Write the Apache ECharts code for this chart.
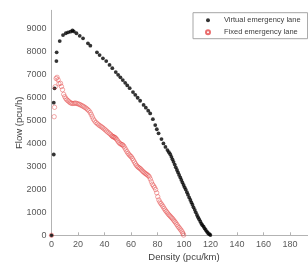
<!DOCTYPE html>
<html>
<head>
	<meta charset="utf-8">
	<title>Flow - Density</title>
	<script src="https://cdn.jsdelivr.net/npm/echarts@6/dist/echarts.min.js"></script>
	<style>
		html, body { margin: 0; padding: 0; background: #fff; }
		#main { width: 308px; height: 264px; }
	</style>
</head>
<body>
	<div id="main"></div>
	<script>
		// 虚拟应急车道 (black dots)
		var virtualDensity = [0, 1.7, 1.7, 2.3, 3.7, 3.9, 6.2, 8.7, 10.8, 12.5, 14.3, 15.8, 16.8, 18.8, 21.3, 23.8, 27.5, 29.3,
			34.3, 36.3, 38.8, 41.3, 43.8, 45.9, 48.5, 50.3, 52, 53.8, 55.6, 57.2, 59, 61.5, 63.2, 65, 66.9, 69.5, 71.2, 73,
			74.5, 76.5, 78.3, 79.5, 80.8, 83, 84.5, 86, 87.5, 88.6, 89.6, 90.5, 91.3, 92.1, 93, 93.8, 94.7, 95.5, 96.3, 97.2,
			98, 98.8, 99.7, 100.5, 101.3, 102.2, 103, 103.9, 104.8, 105.6, 106.4, 107.2, 108.1, 108.9, 109.8, 110.6, 111.4,
			112.3, 113.1, 113.9, 114.8, 115.6, 116.4, 117.3, 118.1, 119, 119.9];
		var virtualFlow = [0, 3520, 5775, 6400, 7590, 7970, 8460, 8720, 8800, 8840, 8870, 8920, 8880, 8800, 8690, 8580, 8360, 8260,
			7970, 7850, 7710, 7590, 7420, 7280, 7110, 6990, 6880, 6760, 6640, 6530, 6410, 6240, 6120, 5990, 5860, 5680, 5560, 5430,
			5310, 5060, 4800, 4620, 4440, 4190, 4000, 3850, 3710, 3620, 3530, 3420, 3310, 3200, 3080, 2960, 2845, 2740, 2630, 2520,
			2410, 2300, 2190, 2090, 1990, 1880, 1770, 1650, 1537, 1430, 1330, 1220, 1110, 1000, 884, 790, 700,
			600, 510, 440, 375, 300, 230, 160, 100, 50, 13];

		// 固定应急车道 (red circles)
		var fixedDensity = [0, 2, 2.3, 2.8, 3.5, 4.2, 5, 5.6, 6.8, 7.5, 8.3, 9.2, 10, 10.8, 11.6, 12.5, 13.4, 14.3, 15.2, 16.2,
			17.2, 18.2, 19.2, 20.2, 21.2, 22.2, 23.2, 24.2, 25.2, 26.2, 27.2, 28.2, 29.2, 30, 30.8, 31.6, 32.6, 33.6, 34.6, 35.6,
			36.6, 37.6, 38.6, 39.6, 40.6, 41.6, 42.6, 43.6, 44.6, 45.4, 46, 46.6, 47.2, 47.8, 48.4, 49.2, 50, 50.8, 51.6, 52.4,
			53.2, 53.8, 54.6, 55.4, 56.2, 57, 57.8, 58.6, 59.4, 60.2, 61, 61.8, 62.6, 63.4, 64.2, 65, 65.8, 66.6, 67.4, 68.2,
			69, 69.8, 70.6, 71.4, 72.2, 73, 73.8, 74.6, 75.4, 76.2, 77, 77.8, 78.6, 79.4, 80.2, 81, 81.8, 82.6, 83.4, 84.2,
			85, 85.8, 86.6, 87.4, 88.2, 89, 89.8, 90.6, 91.4, 92.2, 93, 93.8, 94.6, 95.4, 96.2, 97, 97.8, 98.6, 99.2, 99.7];
		var fixedFlow = [0, 5165, 5575, 6470, 6830, 6880, 6770, 6600, 6620, 6480, 6340, 6140, 6040, 5960, 5900, 5860, 5810, 5770, 5750, 5740,
			5750, 5760, 5740, 5720, 5700, 5670, 5640, 5610, 5570, 5530, 5480, 5430, 5350, 5260, 5160, 5060, 4980, 4910, 4860, 4810,
			4770, 4730, 4690, 4640, 4590, 4540, 4490, 4440, 4390, 4340, 4310, 4290, 4280, 4260, 4230, 4180, 4110, 4050, 4000, 3970,
			3950, 3930, 3880, 3800, 3720, 3640, 3570, 3510, 3460, 3420, 3350, 3270, 3190, 3110, 3040, 2990, 2950, 2920, 2880, 2830,
			2780, 2740, 2700, 2670, 2640, 2600, 2550, 2450, 2330, 2220, 2150, 2080, 1990, 1850, 1680, 1540, 1450, 1380, 1320, 1250,
			1170, 1100, 1040, 980, 920, 870, 820, 770, 720, 660, 600, 540, 470, 400, 340, 280, 220, 150, 80, 10];

		var seriesNames = ['Virtual emergency lane', 'Fixed emergency lane'];

		function pairs(xs, ys) {
			return xs.map(function (x, i) { return [x, ys[i]]; });
		}

		var myChart = echarts.init(document.getElementById('main'), null, { renderer: 'canvas' });
		var font = 'Liberation Sans, Arial, sans-serif';

		myChart.setOption({
			animation: false,
			backgroundColor: '#fff',
			textStyle: { fontFamily: font },
			grid: {
				left: 51.5,
				right: -8.5,
				top: 10.3,
				bottom: 28.7,
				containLabel: false,
				outerBoundsMode: 'none'
			},
			legend: {
				orient: 'vertical',
				left: 193,
				top: 12.7,
				padding: [3, 7, 2, 12],
				itemGap: 3,
				itemWidth: 22,
				itemHeight: 4,
				borderColor: '#a6a6a6',
				borderWidth: 1,
				backgroundColor: '#fff',
				textStyle: { fontSize: 7.5, color: '#404040', fontFamily: font, lineHeight: 9 },
				data: seriesNames
			},
			xAxis: {
				type: 'value',
				min: 0,
				max: 200,
				interval: 20,
				name: 'Density (pcu/km)',
				nameLocation: 'middle',
				nameGap: 17.5,
				nameMoveOverlap: false,
				nameTextStyle: { fontSize: 9.5, color: '#404040' },
				splitLine: { show: false },
				axisLine: { lineStyle: { color: '#b3b3b3' } },
				axisTick: { show: true, inside: true, length: 3, lineStyle: { color: '#b3b3b3' } },
				axisLabel: { fontSize: 9, color: '#595959', margin: 5 }
			},
			yAxis: {
				type: 'value',
				min: 0,
				max: 9800,
				interval: 1000,
				name: 'Flow (pcu/h)',
				nameLocation: 'middle',
				nameGap: 27,
				nameMoveOverlap: false,
				nameTextStyle: { fontSize: 9.5, color: '#404040' },
				splitLine: { show: false },
				axisLine: { show: true, lineStyle: { color: '#b3b3b3' } },
				axisTick: { show: false },
				axisLabel: {
					fontSize: 9, color: '#595959', margin: 5, showMaxLabel: false,
					formatter: function (v) { return String(v); }
				}
			},
			series: [
				{
					name: seriesNames[0],
					type: 'scatter',
					symbol: 'circle',
					symbolSize: 3.8,
					itemStyle: { color: '#000' },
					data: pairs(virtualDensity, virtualFlow)
				},
				{
					name: seriesNames[1],
					type: 'scatter',
					symbol: 'circle',
					symbolSize: 4.4,
					itemStyle: { color: 'rgba(255,255,255,0)', borderColor: '#e34848', borderWidth: 0.6 },
					data: pairs(fixedDensity, fixedFlow)
				}
			]
		});
	</script>
</body>
</html>
